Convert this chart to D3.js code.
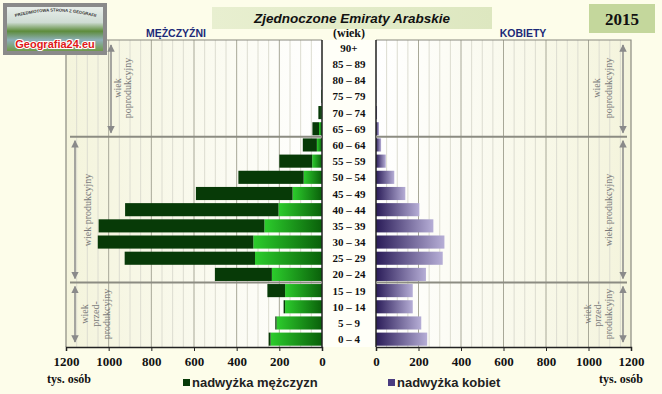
<!DOCTYPE html>
<html lang="pl">
<head>
<meta charset="UTF-8">
<title>Piramida wieku</title>
<script src="https://cdn.jsdelivr.net/npm/d3@7/dist/d3.min.js"></script>
<style>
  body { margin: 0; background: #fdfdea; }
  svg { display: block; }
</style>
</head>
<body>
<script>
// dane (tys. osób)
var ages = ["0 – 4", "5 – 9", "10 – 14", "15 – 19", "20 – 24", "25 – 29", "30 – 34", "35 – 39",
            "40 – 44", "45 – 49", "50 – 54", "55 – 59", "60 – 64", "65 – 69", "70 – 74",
            "75 – 79", "80 – 84", "85 – 89", "90+"];
var men   = [250, 219, 180, 256, 502, 925, 1051, 1047, 923, 591, 392, 200, 90, 45, 17, 4, 1, 0, 0];
var women = [241, 213, 173, 173, 235, 314, 322, 270, 204, 138, 86, 46, 24, 14, 5, 2, 1, 0, 0];
var ticks = [0, 200, 400, 600, 800, 1000, 1200];

var width = 662, height = 394;
var plotTop = 40, plotBottom = 347;

var svg = d3.select("body").append("svg")
    .attr("width", width).attr("height", height);

svg.append("rect").attr("width", width).attr("height", height).attr("fill", "#fdfdea");

var defs = svg.append("defs");

function grad(id, stops, x1, x2) {
  var g = defs.append("linearGradient").attr("id", id)
      .attr("x1", x1).attr("x2", x2).attr("y1", 0).attr("y2", 0);
  stops.forEach(function(s) {
    g.append("stop").attr("offset", s[0]).attr("stop-color", s[1]);
  });
}
grad("gMen", [[0, "#2ccc2c"], [1, "#0a600a"]], 0, 1);
grad("gWomen", [[0, "#2a1c58"], [1, "#b6aed6"]], 0, 1);
grad("gPanelL", [[0, "#f4f4dc"], [1, "#ffffff"]], 0, 1);
grad("gPanelR", [[0, "#ffffff"], [1, "#f4f4dc"]], 0, 1);
grad("gTitle", [[0, "#e8efd0"], [1, "#dde7c0"]], 0, 1);
var sky = defs.append("linearGradient").attr("id", "gLogo").attr("x1", 0).attr("x2", 0).attr("y1", 0).attr("y2", 1);
[[0, "#e8eeea"], [0.35, "#cfdcd4"], [0.55, "#5d8c3c"], [0.75, "#8eb0b8"], [1, "#6f9a4a"]].forEach(function(s) {
  sky.append("stop").attr("offset", s[0]).attr("stop-color", s[1]);
});

// skale
var y = d3.scaleBand().domain(ages.slice().reverse()).range([plotTop, plotBottom]).paddingInner(0.19).paddingOuter(0.08);
var xL = d3.scaleLinear().domain([0, 1200]).range([322, 66]);
var xR = d3.scaleLinear().domain([0, 1200]).range([376, 631]);

// tło paneli
svg.append("rect").attr("x", xL(1200)).attr("y", plotTop).attr("width", xL(0) - xL(1200)).attr("height", plotBottom - plotTop)
    .attr("fill", "url(#gPanelL)");
svg.append("rect").attr("x", xR(0)).attr("y", plotTop).attr("width", xR(1200) - xR(0)).attr("height", plotBottom - plotTop)
    .attr("fill", "url(#gPanelR)");
svg.append("rect").attr("x", xL(0)).attr("y", plotTop).attr("width", xR(0) - xL(0)).attr("height", plotBottom - plotTop)
    .attr("fill", "#fffff8");

// linie siatki
var minor = d3.range(50, 1200, 50);
[xL, xR].forEach(function(x) {
  svg.append("g").selectAll("line").data(minor).enter().append("line")
      .attr("x1", function(d) { return x(d); }).attr("x2", function(d) { return x(d); })
      .attr("y1", plotTop).attr("y2", plotBottom)
      .attr("stroke", function(d) { return d % 200 === 0 ? "#a8a898" : "#dcdcd0"; })
      .attr("stroke-width", 1);
});

// ramki paneli
svg.append("path").attr("d", "M" + xL(1200) + "," + plotBottom + "V" + plotTop + "H" + xL(0))
    .attr("fill", "none").attr("stroke", "#8a8a80").attr("stroke-width", 1.2);
svg.append("path").attr("d", "M" + xR(0) + "," + plotTop + "H" + xR(1200) + "V" + plotBottom)
    .attr("fill", "none").attr("stroke", "#8a8a80").attr("stroke-width", 1.2);

// słupki
var rows = ages.map(function(a, i) { return { age: a, m: men[i], f: women[i] }; });
var bars = svg.append("g");
bars.selectAll(".mc").data(rows).enter().append("rect")
    .attr("x", function(d) { return xL(Math.min(d.m, d.f)); })
    .attr("y", function(d) { return y(d.age); })
    .attr("width", function(d) { return xL(0) - xL(Math.min(d.m, d.f)); })
    .attr("height", y.bandwidth())
    .attr("fill", "url(#gMen)");
bars.selectAll(".mx").data(rows.filter(function(d) { return d.m > d.f; })).enter().append("rect")
    .attr("x", function(d) { return xL(d.m); })
    .attr("y", function(d) { return y(d.age); })
    .attr("width", function(d) { return xL(d.f) - xL(d.m); })
    .attr("height", y.bandwidth())
    .attr("fill", "#073a07");
bars.selectAll(".fc").data(rows).enter().append("rect")
    .attr("x", xR(0))
    .attr("y", function(d) { return y(d.age); })
    .attr("width", function(d) { return xR(Math.min(d.m, d.f)) - xR(0); })
    .attr("height", y.bandwidth())
    .attr("fill", "url(#gWomen)");
bars.selectAll(".fx").data(rows.filter(function(d) { return d.f > d.m; })).enter().append("rect")
    .attr("x", function(d) { return xR(d.m); })
    .attr("y", function(d) { return y(d.age); })
    .attr("width", function(d) { return xR(d.f) - xR(d.m); })
    .attr("height", y.bandwidth())
    .attr("fill", "#3a2c70");

// osie pionowe
svg.append("line").attr("x1", xL(0)).attr("x2", xL(0)).attr("y1", plotTop).attr("y2", plotBottom).attr("stroke", "#222").attr("stroke-width", 1.5);
svg.append("line").attr("x1", xR(0)).attr("x2", xR(0)).attr("y1", plotTop).attr("y2", plotBottom).attr("stroke", "#222").attr("stroke-width", 1.5);

// linie grup wieku
var gap = (y.step() - y.bandwidth()) / 2;
var sep = [y("60 – 64") - gap, y("20 – 24") + y.bandwidth() + gap];
sep.forEach(function(s) {
  svg.append("line").attr("x1", 70).attr("x2", xL(0)).attr("y1", s).attr("y2", s).attr("stroke", "#8c8c82").attr("stroke-width", 2);
  svg.append("line").attr("x1", xR(0)).attr("x2", 627).attr("y1", s).attr("y2", s).attr("stroke", "#8c8c82").attr("stroke-width", 2);
});

// osie dolne
var axL = svg.append("g").attr("transform", "translate(0," + plotBottom + ")")
    .call(d3.axisBottom(xL).tickValues(ticks).tickSize(4).tickPadding(6).tickFormat(d3.format("d")));
var axR = svg.append("g").attr("transform", "translate(0," + plotBottom + ")")
    .call(d3.axisBottom(xR).tickValues(ticks).tickSize(4).tickPadding(6).tickFormat(d3.format("d")));
[axL, axR].forEach(function(a) {
  a.select(".domain").attr("stroke", "#222").attr("stroke-width", 1.5);
  a.selectAll(".tick line").attr("stroke", "#222");
  a.selectAll("text").attr("font-family", "Liberation Serif, serif").attr("font-weight", "bold")
      .attr("font-size", 13).attr("fill", "#111");
});

// etykiety wieku
svg.append("g").selectAll("text").data(ages).enter().append("text")
    .attr("x", 349).attr("y", function(d) { return y(d) + y.bandwidth() / 2 + 4; })
    .attr("text-anchor", "middle")
    .attr("font-family", "Liberation Serif, serif").attr("font-weight", "bold").attr("font-size", 11)
    .attr("fill", "#111").text(function(d) { return d; });
svg.append("text").attr("x", 349).attr("y", 37).attr("text-anchor", "middle")
    .attr("font-family", "Liberation Serif, serif").attr("font-weight", "bold").attr("font-size", 12)
    .attr("fill", "#111").text("(wiek)");

// opisy grup wieku
defs.append("marker").attr("id", "arr").attr("viewBox", "0 0 10 10").attr("refX", 9).attr("refY", 5)
    .attr("markerWidth", 5).attr("markerHeight", 5).attr("orient", "auto-start-reverse")
    .append("path").attr("d", "M0,0L10,5L0,10z").attr("fill", "#8a8a8a");

function arrow(x, y1, y2) {
  svg.append("line").attr("x1", x).attr("x2", x).attr("y1", y1).attr("y2", y2)
      .attr("stroke", "#8a8a8a").attr("stroke-width", 1.5)
      .attr("marker-start", "url(#arr)").attr("marker-end", "url(#arr)");
}
function vlabel(xs, yc, lines) {
  lines.forEach(function(t, i) {
    svg.append("text").attr("transform", "translate(" + xs[i] + "," + yc + ") rotate(-90)")
        .attr("text-anchor", "middle")
        .attr("font-family", "Liberation Serif, serif").attr("font-size", 10)
        .attr("fill", "#7a7a7a").text(t);
  });
}
arrow(111, 45, sep[0] - 4);
arrow(75, sep[0] + 4, sep[1] - 4);
arrow(75, sep[1] + 4, plotBottom - 5);
vlabel([121, 131], 88, ["wiek", "poprodukcyjny"]);
vlabel([91], 210, ["wiek produkcyjny"]);
vlabel([88, 99, 110], 314, ["wiek", "przed-", "produkcyjny"]);

arrow(623, 45, sep[0] - 4);
arrow(623, sep[0] + 4, sep[1] - 4);
arrow(623, sep[1] + 4, plotBottom - 5);
vlabel([600, 612], 88, ["wiek", "poprodukcyjny"]);
vlabel([612], 210, ["wiek produkcyjny"]);
vlabel([591, 601, 612], 314, ["wiek", "przed-", "produkcyjny"]);

// nagłówki
svg.append("text").attr("x", 176).attr("y", 37).attr("text-anchor", "middle")
    .attr("font-family", "Liberation Sans, sans-serif").attr("font-weight", "bold").attr("font-size", 10.5)
    .attr("fill", "#1c2a78").text("MĘŻCZYŹNI");
svg.append("text").attr("x", 523).attr("y", 37).attr("text-anchor", "middle")
    .attr("font-family", "Liberation Sans, sans-serif").attr("font-weight", "bold").attr("font-size", 10.5)
    .attr("fill", "#1c2a78").text("KOBIETY");

svg.append("rect").attr("x", 212).attr("y", 7).attr("width", 280).attr("height", 22).attr("fill", "url(#gTitle)");
svg.append("text").attr("x", 352).attr("y", 23).attr("text-anchor", "middle")
    .attr("font-family", "Liberation Sans, sans-serif").attr("font-weight", "bold").attr("font-style", "italic")
    .attr("font-size", 13.5).attr("fill", "#111").text("Zjednoczone Emiraty Arabskie");

svg.append("rect").attr("x", 589).attr("y", 4).attr("width", 66).attr("height", 29).attr("fill", "#c4d79c");
svg.append("text").attr("x", 622).attr("y", 25).attr("text-anchor", "middle")
    .attr("font-family", "Liberation Serif, serif").attr("font-weight", "bold").attr("font-size", 17)
    .attr("fill", "#111").text("2015");

// jednostki i legenda
svg.append("text").attr("x", 47).attr("y", 383)
    .attr("font-family", "Liberation Serif, serif").attr("font-weight", "bold").attr("font-size", 12)
    .attr("fill", "#111").text("tys. osób");
svg.append("text").attr("x", 643).attr("y", 383).attr("text-anchor", "end")
    .attr("font-family", "Liberation Serif, serif").attr("font-weight", "bold").attr("font-size", 12)
    .attr("fill", "#111").text("tys. osób");

var legend = [{ x: 183, c: "#073a07", t: "nadwyżka mężczyzn" }, { x: 388, c: "#4a3c80", t: "nadwyżka kobiet" }];
legend.forEach(function(l) {
  svg.append("rect").attr("x", l.x).attr("y", 379).attr("width", 7).attr("height", 7).attr("fill", l.c);
  svg.append("text").attr("x", l.x + 9).attr("y", 387)
      .attr("font-family", "Liberation Sans, sans-serif").attr("font-weight", "bold").attr("font-size", 13)
      .attr("fill", "#222").text(l.t);
});

// logo
var logo = svg.append("g");
logo.append("rect").attr("x", 3).attr("y", 3).attr("width", 104).attr("height", 52).attr("fill", "#8a8a8a");
logo.append("rect").attr("x", 7).attr("y", 7).attr("width", 96).attr("height", 44).attr("fill", "url(#gLogo)");
logo.append("path").attr("d", "M9,19 Q55,4 102,19").attr("id", "arcLogo").attr("fill", "none");
logo.append("text").attr("font-family", "Liberation Sans, sans-serif").attr("font-size", 4.2).attr("font-weight", "bold")
    .attr("fill", "#333").append("textPath").attr("href", "#arcLogo").attr("startOffset", "50%")
    .attr("text-anchor", "middle").text("PRZEDMIOTOWA STRONA Z GEOGRAFII");
logo.append("text").attr("x", 55).attr("y", 48).attr("text-anchor", "middle")
    .attr("font-family", "Liberation Sans, sans-serif").attr("font-weight", "bold").attr("font-size", 11)
    .attr("fill", "#e01818").attr("stroke", "#fff").attr("stroke-width", 2.2).attr("paint-order", "stroke")
    .text("Geografia24.eu");
</script>
</body>
</html>
